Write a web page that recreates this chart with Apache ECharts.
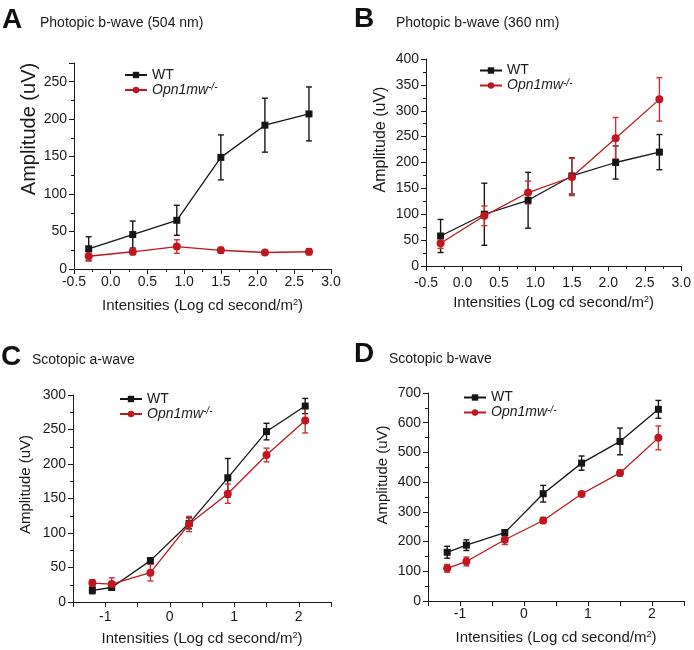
<!DOCTYPE html>
<html>
<head>
<meta charset="utf-8">
<script src="https://cdn.jsdelivr.net/npm/echarts@6/dist/echarts.min.js"></script>
<style>
html,body{margin:0;padding:0;background:#fff;}
#chart{width:694px;height:650px;}
</style>
</head>
<body>
<div id="chart"></div>
<script>
// ---- data ----
const xPhot = [-0.3, 0.3, 0.9, 1.5, 2.1, 2.7];
const xScot = [-1.2, -0.9, -0.3, 0.3, 0.9, 1.5, 2.1];

const wtA = [27, 46, 65, 149, 192, 207];
const wtAErr = [16, 18, 20, 30, 36, 36];
const koA = [17, 23, 30, 25, 22, 23];
const koAErr = [6, 4, 9, 4, 2, 4];

const wtB = [58, 100, 127, 174, 200, 220];
const wtBErr = [32, 60, 54, 35, 32, 34];
const koB = [44, 97, 142, 172, 247, 322];
const koBErr = [10, 19, 22, 36, 40, 42];

const wtC = [17, 21, 60, 114, 180, 247, 284];
const wtCErr = [5, 3, 4, 8, 28, 12, 11];
const koC = [27.5, 26, 42.5, 113, 157, 213, 263];
const koCErr = [5, 9, 12, 11, 14, 10, 18];

const wtD = [164, 188, 230, 361, 464, 537, 645];
const wtDErr = [20, 18, 10, 28, 24, 45, 30];
const koD = [110, 133, 206, 271, 360, 431, 549];
const koDErr = [13, 15, 16, 10, 6, 10, 40];

const panelLetters = ['A', 'B', 'C', 'D'];
const panelTitles = ['Photopic b-wave (504 nm)', 'Photopic b-wave (360 nm)', 'Scotopic a-wave', 'Scotopic b-wave'];
const seriesNames = ['WT', 'Opn1mw-/-'];
const yName = 'Amplitude (uV)';

// ---- styling ----
const FONT = 'Liberation Sans, Arial, Helvetica, sans-serif';
const BLACK = '#161616';
const RED = '#c0161f';
const RED_ERR = '#c8303a';
const AX = '#1a1a1a';

const grids = [
  {left: 74, top: 63, width: 257, height: 206},
  {left: 426, top: 59, width: 256, height: 207},
  {left: 73, top: 395, width: 258, height: 207},
  {left: 428, top: 393, width: 256, height: 208}
];

const xCfg = [
  {min: -0.5, max: 3, interval: 0.5, fmt: v => v.toFixed(1), minor: true, margin: 6},
  {min: -0.5, max: 3, interval: 0.5, fmt: v => v.toFixed(1), minor: true, margin: 10},
  {min: -1.5, max: 2.5, interval: 0.5, fmt: v => Number.isInteger(v) ? String(v) : '', minor: false, margin: 8},
  {min: -1.5, max: 2.5, interval: 0.5, fmt: v => Number.isInteger(v) ? String(v) : '', minor: false, margin: 6}
];
const yCfg = [
  {min: 0, max: 275, interval: 50, nameSize: 20, gap: 33, shift: 37},
  {min: 0, max: 400, interval: 50, nameSize: 16, gap: 37, shift: 23},
  {min: 0, max: 300, interval: 50, nameSize: 15, gap: 40, shift: 14},
  {min: 0, max: 700, interval: 100, nameSize: 15, gap: 38, shift: 22}
];

const xAxes = xCfg.map((c, i) => ({
  type: 'value', gridIndex: i, min: c.min, max: c.max, interval: c.interval,
  splitLine: {show: false},
  axisLine: {show: true, onZero: false, lineStyle: {color: AX, width: 1}},
  axisTick: {show: true, length: 5, lineStyle: {color: AX}},
  minorTick: {show: c.minor, splitNumber: 2, length: 3, lineStyle: {color: AX}},
  axisLabel: {formatter: c.fmt, color: '#1a1a1a', fontSize: 14, fontFamily: FONT, margin: c.margin, showMaxLabel: true},
  name: 'Intensities (Log cd second/m{s|2})',
  nameLocation: 'middle', nameGap: 29,
  nameTextStyle: {color: '#1a1a1a', fontSize: 15, fontFamily: FONT,
    rich: {s: {fontSize: 9, fontFamily: FONT, color: '#1a1a1a', verticalAlign: 'top', lineHeight: 9}}}
}));

const yAxes = yCfg.map((c, i) => ({
  type: 'value', gridIndex: i, min: c.min, max: c.max, interval: c.interval,
  splitLine: {show: false},
  axisLine: {show: true, onZero: false, lineStyle: {color: AX, width: 1}},
  axisTick: {show: true, length: 5, lineStyle: {color: AX}},
  minorTick: {show: true, splitNumber: 2, length: 3, lineStyle: {color: AX}},
  axisLabel: {color: '#1a1a1a', fontSize: 14, fontFamily: FONT, margin: 7,
    formatter: v => (v % c.interval === 0 ? String(v) : '')},
  name: yName, nameLocation: 'middle', nameGap: c.gap, nameRotate: 90,
  nameTextStyle: {color: '#1a1a1a', fontSize: c.nameSize, fontFamily: FONT, padding: [0, 0, 0, c.shift * 2]}
}));

function errSeries(xs, ys, es, color, idx, nm) {
  return {
    type: 'custom', name: nm, xAxisIndex: idx, yAxisIndex: idx, z: 3,
    data: xs.map((x, i) => [x, ys[i] - es[i], ys[i] + es[i]]),
    encode: {x: 0, y: [1, 2]},
    renderItem: function (params, api) {
      const x = api.value(0);
      const lo = api.coord([x, api.value(1)]);
      const hi = api.coord([x, api.value(2)]);
      const w = 3;
      const st = {stroke: color, lineWidth: 1.4};
      return {type: 'group', children: [
        {type: 'line', shape: {x1: lo[0], y1: lo[1], x2: hi[0], y2: hi[1]}, style: st},
        {type: 'line', shape: {x1: hi[0] - w, y1: hi[1], x2: hi[0] + w, y2: hi[1]}, style: st},
        {type: 'line', shape: {x1: lo[0] - w, y1: lo[1], x2: lo[0] + w, y2: lo[1]}, style: st}
      ]};
    }
  };
}

function lineSeries(name, xs, ys, color, sym, idx) {
  return {
    type: 'line', name: name, xAxisIndex: idx, yAxisIndex: idx, z: 4,
    data: xs.map((x, i) => [x, ys[i]]),
    symbol: sym, symbolSize: sym === 'rect' ? 7 : 8, showSymbol: true,
    lineStyle: {color: color, width: 1.3},
    itemStyle: {color: color},
    emphasis: {disabled: true},
    animation: false
  };
}

const panels = [
  {xs: xPhot, wt: wtA, wtE: wtAErr, ko: koA, koE: koAErr},
  {xs: xPhot, wt: wtB, wtE: wtBErr, ko: koB, koE: koBErr},
  {xs: xScot, wt: wtC, wtE: wtCErr, ko: koC, koE: koCErr},
  {xs: xScot, wt: wtD, wtE: wtDErr, ko: koD, koE: koDErr}
];

const series = [];
panels.forEach((p, i) => {
  series.push(errSeries(p.xs, p.wt, p.wtE, BLACK, i, 'errWT' + i));
  series.push(errSeries(p.xs, p.ko, p.koE, RED_ERR, i, 'errKO' + i));
  series.push(lineSeries(seriesNames[0], p.xs, p.wt, BLACK, 'rect', i));
  series.push(lineSeries(seriesNames[1], p.xs, p.ko, RED, 'circle', i));
});

const legendPos = [
  {left: 124, top: 67.5},
  {left: 479, top: 63},
  {left: 119, top: 391.5},
  {left: 463, top: 390}
];
const legends = legendPos.map(pos => ({
  left: pos.left, top: pos.top, orient: 'vertical', padding: 0,
  data: seriesNames, itemWidth: 22, itemHeight: 8, itemGap: 0,
  selectedMode: false,
  formatter: n => n === 'WT' ? '{n|WT}' : '{i|Opn1mw}{s|-/-}',
  textStyle: {fontSize: 14, fontFamily: FONT, color: '#1a1a1a', lineHeight: 15,
    rich: {
      n: {fontSize: 14, fontFamily: FONT, color: '#1a1a1a', lineHeight: 15},
      i: {fontSize: 14, fontFamily: FONT, fontStyle: 'italic', color: '#1a1a1a', lineHeight: 15},
      s: {fontSize: 10, fontFamily: FONT, fontStyle: 'italic', color: '#1a1a1a', verticalAlign: 'top', lineHeight: 10}
    }}
}));

const letterPos = [{left: 2, top: 6}, {left: 354, top: 5}, {left: 1, top: 343}, {left: 354, top: 340}];
const subPos = [{left: 40, top: 16}, {left: 396, top: 16}, {left: 32, top: 353}, {left: 389, top: 352}];
const titles = [];
panelLetters.forEach((L, i) => {
  titles.push({text: L, left: letterPos[i].left, top: letterPos[i].top, padding: 0,
    textStyle: {fontSize: 28, fontWeight: 'bold', fontFamily: FONT, color: '#111'}});
  titles.push({text: panelTitles[i], left: subPos[i].left, top: subPos[i].top, padding: 0,
    textStyle: {fontSize: 14, fontWeight: 'normal', fontFamily: FONT, color: '#1a1a1a'}});
});

const chart = echarts.init(document.getElementById('chart'), null, {renderer: 'canvas'});
chart.setOption({
  backgroundColor: '#fff',
  animation: false,
  title: titles,
  legend: legends,
  grid: grids,
  xAxis: xAxes,
  yAxis: yAxes,
  series: series
});
</script>
</body>
</html>
